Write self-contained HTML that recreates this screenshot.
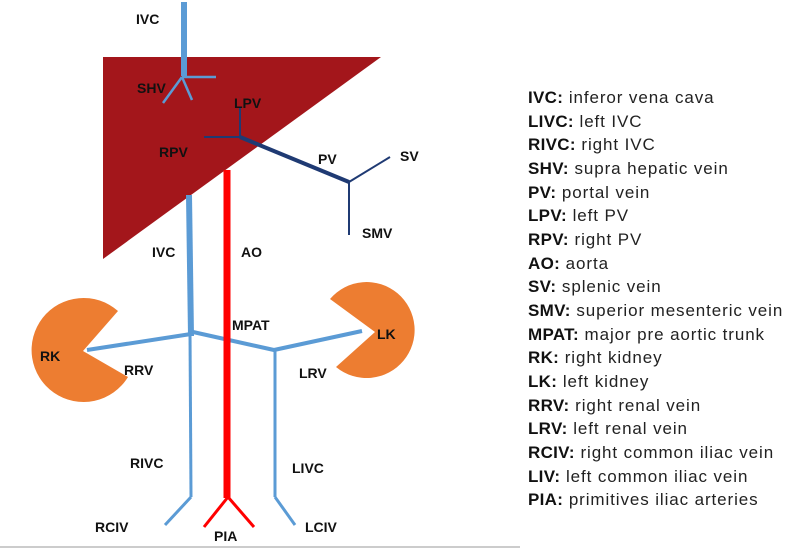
<!DOCTYPE html>
<html><head><meta charset="utf-8"><style>
body{margin:0;background:#fff;width:791px;height:550px;overflow:hidden;position:relative;font-family:"Liberation Sans",sans-serif}
.lg{position:absolute;left:528px;top:86px;font-size:17px;letter-spacing:0.9px;line-height:23.65px;color:#222;white-space:nowrap}
.lg b{color:#111;letter-spacing:0.3px}
</style></head><body>
<svg width="791" height="550" style="position:absolute;left:0;top:0">
<polygon points="103,57 381,57 103,259" fill="#a3161b"/>
<g stroke="#5b9bd5" stroke-linecap="butt" fill="none">
<line x1="184" y1="2" x2="184" y2="76" stroke-width="6"/>
<line x1="182" y1="77" x2="216" y2="77" stroke-width="2.5"/>
<line x1="182" y1="77" x2="163" y2="103" stroke-width="2.5"/>
<line x1="182" y1="77" x2="192" y2="100" stroke-width="2.5"/>
<line x1="189" y1="195" x2="191" y2="336" stroke-width="6"/>
<line x1="190" y1="332" x2="191" y2="497" stroke-width="3"/>
<line x1="191" y1="334" x2="87" y2="350" stroke-width="4"/>
<line x1="193" y1="332" x2="274" y2="350" stroke-width="4"/>
<line x1="274" y1="350" x2="362" y2="331" stroke-width="4"/>
<line x1="275" y1="350" x2="275" y2="497" stroke-width="3"/>
<line x1="191" y1="497" x2="165" y2="525" stroke-width="3"/>
<line x1="275" y1="497" x2="295" y2="525" stroke-width="3"/>
</g>
<g stroke="#ff0000" fill="none">
<line x1="227" y1="170" x2="227" y2="498" stroke-width="7"/>
<line x1="228" y1="497" x2="204" y2="527" stroke-width="3"/>
<line x1="228" y1="497" x2="254" y2="527" stroke-width="3"/>
</g>
<g stroke="#1f3a73" fill="none">
<line x1="240" y1="107" x2="240" y2="137" stroke-width="2"/>
<line x1="204" y1="137" x2="240" y2="137" stroke-width="2"/>
<line x1="240" y1="137" x2="349" y2="182" stroke-width="4"/>
<line x1="349" y1="182" x2="390" y2="157" stroke-width="2"/>
<line x1="349" y1="182" x2="349" y2="235" stroke-width="2"/>
</g>
<path d="M83,351 L118,311 A52,52 0 1 0 128,377 Z" fill="#ed7d31"/>
<path d="M375,332 L330,299 A48,48 0 1 1 336,367 Z" fill="#ed7d31"/>
<line x1="0" y1="547" x2="520" y2="547" stroke="#ccc" stroke-width="2"/>
<g font-family="Liberation Sans" font-weight="bold" font-size="14" fill="#111">
<text x="136" y="24">IVC</text>
<text x="137" y="93">SHV</text>
<text x="234" y="108">LPV</text>
<text x="159" y="157">RPV</text>
<text x="318" y="164">PV</text>
<text x="400" y="161">SV</text>
<text x="362" y="238">SMV</text>
<text x="152" y="257">IVC</text>
<text x="241" y="257">AO</text>
<text x="232" y="330">MPAT</text>
<text x="40" y="361">RK</text>
<text x="377" y="339">LK</text>
<text x="124" y="375">RRV</text>
<text x="299" y="378">LRV</text>
<text x="130" y="468">RIVC</text>
<text x="292" y="473">LIVC</text>
<text x="95" y="532">RCIV</text>
<text x="305" y="532">LCIV</text>
<text x="214" y="541">PIA</text>
</g>
</svg>
<div class="lg">
<b>IVC:</b> inferor vena cava<br><b>LIVC:</b> left IVC<br><b>RIVC:</b> right IVC<br><b>SHV:</b> supra hepatic vein<br><b>PV:</b> portal vein<br><b>LPV:</b> left PV<br><b>RPV:</b> right PV<br><b>AO:</b> aorta<br><b>SV:</b> splenic vein<br><b>SMV:</b> superior mesenteric vein<br><b>MPAT:</b> major pre aortic trunk<br><b>RK:</b> right kidney<br><b>LK:</b> left kidney<br><b>RRV:</b> right renal vein<br><b>LRV:</b> left renal vein<br><b>RCIV:</b> right common iliac vein<br><b>LIV:</b> left common iliac vein<br><b>PIA:</b> primitives iliac arteries
</div>
</body></html>
